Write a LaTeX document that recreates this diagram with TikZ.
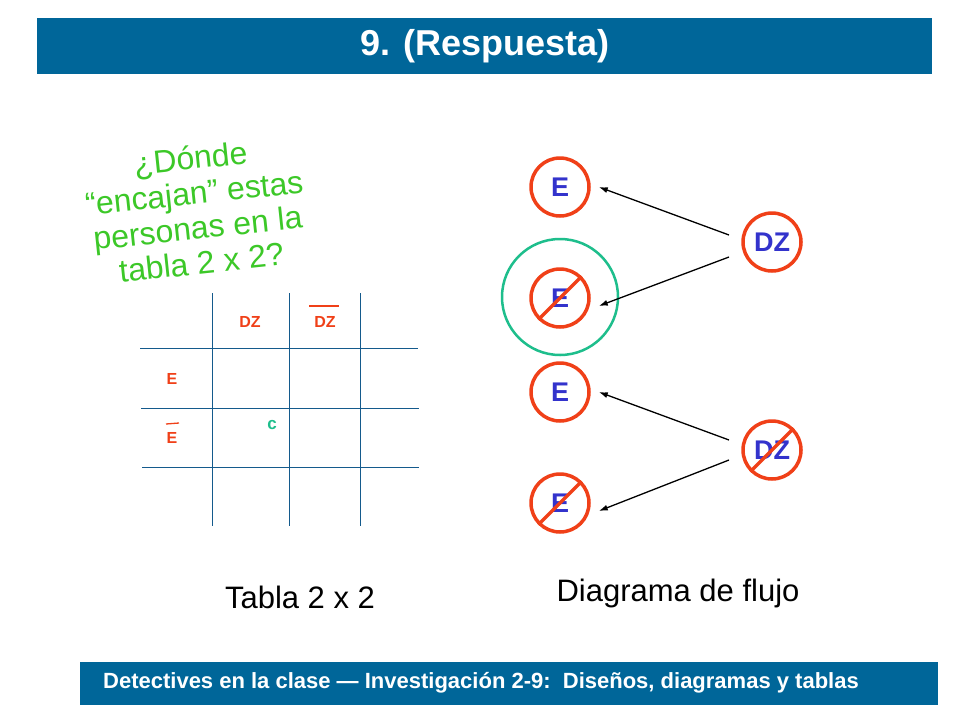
\documentclass[tikz,border=0pt]{standalone}
\usepackage{fontspec}
\usetikzlibrary{arrows.meta}
\setmainfont{Liberation Sans}
\begin{document}
\begin{tikzpicture}[x=1pt,y=-1pt,
  ecirc/.style={circle,draw=circred,line width=3.5pt,minimum size=58pt,inner sep=0pt,text=txtblue,font=\bfseries\fontsize{27}{30}\selectfont},
  grid/.style={draw=gridblue,line width=0.8pt},
  lbl/.style={text=circred,font=\bfseries\fontsize{16}{18}\selectfont},
  arr/.style={-{Latex[length=9pt,width=6pt]},line width=1.3pt},
  strike/.style={draw=circred,line width=3.5pt}]
\definecolor{barblue}{RGB}{0,102,153}
\definecolor{circred}{RGB}{240,64,24}
\definecolor{txtblue}{RGB}{51,51,204}
\definecolor{gridblue}{RGB}{20,90,140}
\definecolor{qgreen}{RGB}{60,200,40}
\definecolor{tgreen}{RGB}{30,190,140}
\useasboundingbox (0,0) rectangle (960,720);
\fill[white] (0,0) rectangle (960,720);
\node[fill=barblue,minimum width=895pt,minimum height=56pt,text=white,font=\bfseries\fontsize{36}{38}\selectfont,anchor=north west,inner sep=0pt] (title) at (37,18) {9. (Respuesta)};
\node[fill=barblue,minimum width=858pt,minimum height=43pt,anchor=north west,inner sep=0pt] (foot) at (80,662) {};
\node[text=white,font=\bfseries\fontsize{22}{24}\selectfont] (foottxt) at (481,683) {Detectives en la clase — Investigación 2-9:\ \ Diseños, diagramas y tablas};
\node[rotate=6,text=qgreen,align=center,font=\fontsize{32}{35}\selectfont] (q) at (196,210) {¿Dónde\\“encajan” estas\\personas en la\\tabla 2 x 2?};
% grid
\draw[grid] (212,293) -- (212,526);
\draw[grid] (289,293) -- (289,526);
\draw[grid] (360,293) -- (360,526);
\draw[grid] (140,348) -- (418,348);
\draw[grid] (141,408) -- (419,408);
\draw[grid] (142,467) -- (419,467);
\node[lbl] (dz) at (250,322) {DZ};
\node[lbl] (dzb) at (325,322) {DZ};
\draw[circred,line width=1.3pt] (309,306) -- (339,306);
\node[lbl] (e) at (172,379) {E};
\node[lbl] (eb) at (172,438) {E};
\draw[circred,line width=1.3pt] (166,424) -- (179,423);
\node[text=tgreen,font=\bfseries\fontsize{17}{19}\selectfont] (c) at (272,425) {c};
\node[font=\fontsize{31}{34}\selectfont] (t1) at (300,597) {Tabla 2 x 2};
\node[font=\fontsize{31}{34}\selectfont] (t2) at (678,593) {Diagrama de flujo};
% flow
\node[circle,draw=tgreen,line width=2.5pt,minimum size=116pt] (g) at (560,297) {};
\node[ecirc] (e1) at (560,187) {E};
\node[ecirc] (e2) at (560,298) {E};
\node[ecirc] (e3) at (560,392) {E};
\node[ecirc] (e4) at (560,503) {E};
\node[ecirc] (d1) at (772,242) {DZ};
\node[ecirc] (d2) at (772,450) {DZ};
\draw[strike] (e2.225) -- (e2.45);
\draw[strike] (e4.225) -- (e4.45);
\draw[strike] (d2.225) -- (d2.45);
\coordinate (a1) at (729,235); \coordinate (a2) at (729,257);
\coordinate (a3) at (729,440); \coordinate (a4) at (729,460);
\draw[arr] (a1) -- ([xshift=8pt]e1.east);
\draw[arr] (a2) -- ([xshift=8pt,yshift=-8pt]e2.east);
\draw[arr] (a3) -- ([xshift=8pt]e3.east);
\draw[arr] (a4) -- ([xshift=8pt,yshift=-8pt]e4.east);
\end{tikzpicture}
\end{document}
